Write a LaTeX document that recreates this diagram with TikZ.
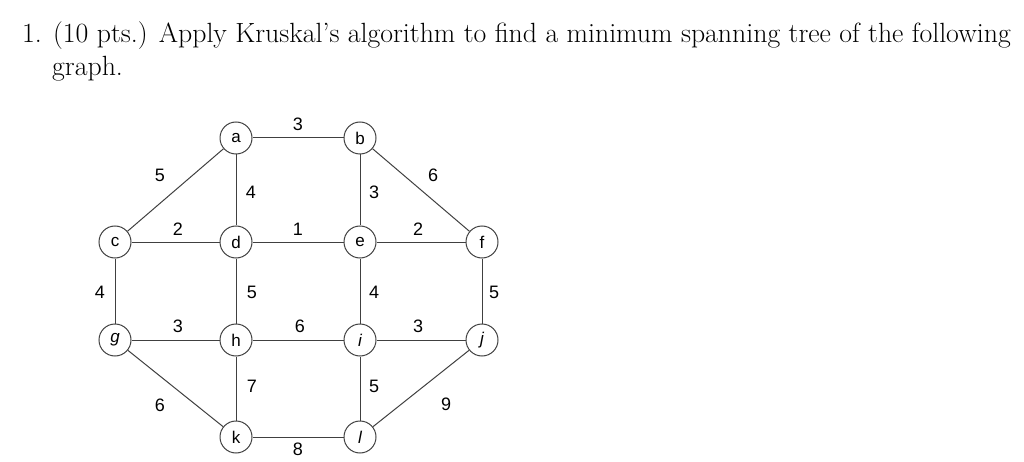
\documentclass[tikz,border=0pt]{standalone}
\usepackage{fontspec}
\newfontfamily\gsans{Liberation Sans}
\begin{document}
\begin{tikzpicture}[x=1pt,y=-1pt,
  vtx/.style={draw=black!75,line width=1pt,circle,minimum size=32pt,inner sep=0pt,font=\gsans\fontsize{17}{17}\selectfont},
  edge/.style={draw=black!75,line width=1pt},
  wt/.style={font=\gsans\fontsize{18}{18}\selectfont,inner sep=0pt}]
\useasboundingbox (0,0) rectangle (1024,462);
\node[anchor=base west,inner sep=0pt,font=\fontsize{27.8}{33}\selectfont] (t1) at (22,43) {1. (10 pts.) Apply Kruskal's algorithm to find a minimum spanning tree of the following};
\node[anchor=base west,inner sep=0pt,font=\fontsize{27.8}{33}\selectfont] (t2) at (52,76) {graph.};
\node[vtx] (a) at (236,138) {a};
\node[vtx] (b) at (360,138) {b};
\node[vtx] (c) at (115,242) {c};
\node[vtx] (d) at (236,242) {d};
\node[vtx] (e) at (360,242) {e};
\node[vtx] (f) at (482,242) {f};
\node[vtx] (g) at (115,340) {\itshape g};
\node[vtx] (h) at (236,340) {h};
\node[vtx] (i) at (360,340) {\itshape i};
\node[vtx] (j) at (482,340) {\itshape j};
\node[vtx] (k) at (236,437) {k};
\node[vtx] (l) at (360,437) {\itshape l};
\foreach \u/\v in {a/b,a/c,a/d,b/e,b/f,c/d,d/e,e/f,c/g,d/h,e/i,f/j,g/h,h/i,i/j,h/k,i/l,g/k,j/l,k/l}
  \draw[edge] (\u) -- (\v);
\node[wt] at (298,124) {3};
\node[wt] at (160,175) {5};
\node[wt] at (251,192) {4};
\node[wt] at (374,192) {3};
\node[wt] at (433,175) {6};
\node[wt] at (178,229) {2};
\node[wt] at (298,229) {1};
\node[wt] at (418,229) {2};
\node[wt] at (100,292) {4};
\node[wt] at (252,292) {5};
\node[wt] at (374,292) {4};
\node[wt] at (494,292) {5};
\node[wt] at (178,326) {3};
\node[wt] at (300,326) {6};
\node[wt] at (418,326) {3};
\node[wt] at (252,386) {7};
\node[wt] at (374,386) {5};
\node[wt] at (160,405) {6};
\node[wt] at (446,404) {9};
\node[wt] at (298,449) {8};
\end{tikzpicture}
\end{document}
